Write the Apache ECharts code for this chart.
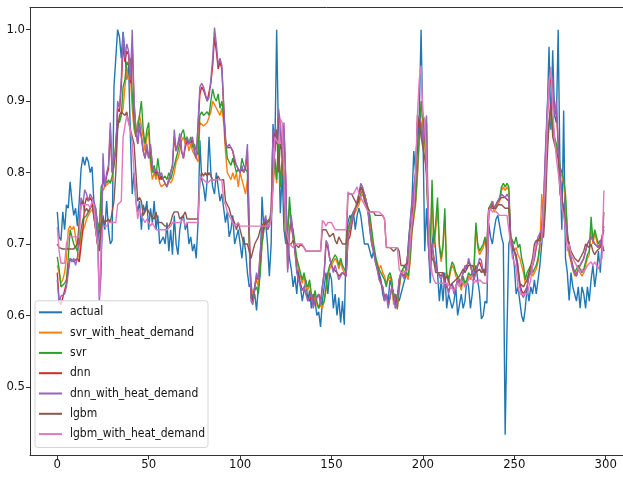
<!DOCTYPE html>
<html>
<head>
<meta charset="utf-8">
<script src="https://cdn.jsdelivr.net/npm/echarts@6/dist/echarts.min.js"></script>
<style>html,body{margin:0;padding:0;background:#fff}#c{width:623px;height:477px}</style>
</head>
<body>
<div id="c"></div>
<script>
const seriesNames = ['actual','svr_with_heat_demand','svr','dnn','dnn_with_heat_demand','lgbm','lgbm_with_heat_demand'];
const xTicks = [0,50,100,150,200,250,300];
const yTicks = [0.5,0.6,0.7,0.8,0.9,1.0];

const actual = [0.745,0.71,0.705,0.745,0.72,0.755,0.75,0.787,0.76,0.74,
 0.75,0.725,0.76,0.805,0.822,0.81,0.822,0.815,0.80,0.808,
 0.76,0.74,0.70,0.73,0.69,0.74,0.72,0.76,0.72,0.70,
 0.705,0.92,0.92,1.0,0.99,0.96,0.997,0.97,0.93,0.95,
 0.85,0.77,0.80,0.76,0.745,0.76,0.72,0.755,0.745,0.76,
 0.72,0.75,0.73,0.76,0.72,0.74,0.70,0.70,0.71,0.70,
 0.73,0.69,0.72,0.685,0.74,0.70,0.685,0.72,0.735,0.74,
 0.72,0.73,0.70,0.71,0.69,0.70,0.68,0.73,0.845,0.79,
 0.78,0.76,0.79,0.85,0.80,0.78,0.77,0.80,0.78,0.76,
 0.77,0.75,0.73,0.745,0.71,0.72,0.74,0.70,0.71,0.72,
 0.70,0.68,0.71,0.69,0.66,0.64,0.645,0.62,0.63,0.607,
 0.64,0.66,0.766,0.72,0.73,0.70,0.655,0.70,0.868,0.83,
 1.0,0.85,0.743,0.80,0.72,0.70,0.705,0.68,0.665,0.64,
 0.655,0.63,0.665,0.64,0.62,0.635,0.65,0.62,0.635,0.61,
 0.63,0.62,0.60,0.605,0.584,0.62,0.64,0.66,0.63,0.66,
 0.65,0.61,0.63,0.60,0.625,0.59,0.62,0.587,0.70,0.73,
 0.74,0.735,0.745,0.72,0.74,0.75,0.74,0.72,0.70,0.70,
 0.70,0.69,0.68,0.69,0.68,0.67,0.66,0.65,0.63,0.62,
 0.63,0.62,0.65,0.64,0.63,0.61,0.63,0.62,0.63,0.63,
 0.65,0.66,0.70,0.73,0.76,0.83,0.80,0.83,0.88,1.0,
 0.86,0.69,0.75,0.70,0.645,0.70,0.72,0.69,0.66,0.62,
 0.65,0.62,0.66,0.61,0.63,0.62,0.61,0.62,0.64,0.60,
 0.60,0.63,0.61,0.62,0.65,0.64,0.61,0.63,0.66,0.67,
 0.65,0.63,0.595,0.60,0.62,0.617,0.729,0.71,0.70,0.72,
 0.735,0.74,0.738,0.71,0.70,0.433,0.58,0.70,0.71,0.69,
 0.67,0.63,0.64,0.62,0.60,0.591,0.61,0.64,0.62,0.64,
 0.63,0.65,0.63,0.65,0.67,0.70,0.73,0.80,0.88,0.976,
 0.86,0.971,0.88,0.87,1.0,0.80,0.72,0.887,0.68,0.66,
 0.621,0.66,0.64,0.63,0.62,0.64,0.61,0.64,0.63,0.61,
 0.64,0.62,0.65,0.67,0.64,0.66,0.69,0.66,0.70,0.69];

const svrWithHeat = [0.67,0.66,0.645,0.65,0.66,0.68,0.72,0.725,0.72,0.725,
 0.71,0.69,0.68,0.715,0.72,0.725,0.735,0.74,0.745,0.745,
 0.75,0.745,0.73,0.72,0.772,0.775,0.78,0.78,0.785,0.785,
 0.79,0.81,0.84,0.865,0.875,0.88,0.89,0.92,0.945,0.93,
 0.935,0.89,0.86,0.85,0.87,0.88,0.88,0.85,0.83,0.85,
 0.86,0.81,0.79,0.80,0.79,0.80,0.785,0.78,0.78,0.785,
 0.78,0.79,0.785,0.79,0.80,0.815,0.82,0.83,0.845,0.85,
 0.84,0.845,0.83,0.84,0.83,0.83,0.82,0.815,0.87,0.87,
 0.865,0.865,0.87,0.87,0.885,0.90,0.895,0.89,0.89,0.88,
 0.89,0.87,0.83,0.80,0.80,0.79,0.80,0.79,0.80,0.78,
 0.80,0.79,0.79,0.77,0.79,0.70,0.64,0.63,0.64,0.65,
 0.64,0.67,0.70,0.72,0.725,0.73,0.73,0.735,0.78,0.81,
 0.785,0.84,0.78,0.81,0.79,0.70,0.70,0.75,0.72,0.71,
 0.69,0.675,0.665,0.655,0.645,0.655,0.64,0.635,0.645,0.625,
 0.615,0.63,0.615,0.61,0.615,0.61,0.62,0.635,0.655,0.665,
 0.67,0.675,0.68,0.675,0.665,0.675,0.665,0.66,0.655,0.715,
 0.725,0.735,0.74,0.745,0.75,0.755,0.765,0.77,0.765,0.755,
 0.745,0.735,0.715,0.695,0.68,0.675,0.665,0.67,0.66,0.655,
 0.645,0.65,0.655,0.645,0.615,0.625,0.608,0.635,0.655,0.665,
 0.665,0.655,0.65,0.675,0.715,0.735,0.755,0.795,0.845,0.89,
 0.87,0.84,0.79,0.735,0.685,0.77,0.695,0.72,0.75,0.695,
 0.675,0.695,0.74,0.655,0.645,0.66,0.67,0.665,0.655,0.65,
 0.645,0.635,0.65,0.64,0.645,0.655,0.65,0.655,0.665,0.725,
 0.695,0.685,0.69,0.695,0.705,0.685,0.745,0.75,0.755,0.745,
 0.75,0.755,0.76,0.775,0.78,0.775,0.78,0.775,0.705,0.70,
 0.69,0.695,0.685,0.68,0.67,0.66,0.645,0.65,0.66,0.665,
 0.655,0.66,0.665,0.675,0.695,0.77,0.74,0.785,0.84,0.865,
 0.885,0.865,0.845,0.835,0.82,0.80,0.795,0.785,0.76,0.715,
 0.685,0.675,0.665,0.655,0.66,0.665,0.66,0.655,0.66,0.67,
 0.68,0.685,0.725,0.70,0.715,0.705,0.695,0.70,0.695,0.69];

const svr = [0.682,0.665,0.64,0.64,0.645,0.65,0.68,0.72,0.719,0.70,
 0.70,0.69,0.70,0.72,0.735,0.735,0.74,0.745,0.75,0.755,
 0.755,0.75,0.73,0.72,0.78,0.785,0.79,0.785,0.79,0.785,
 0.795,0.81,0.84,0.873,0.87,0.88,0.92,0.93,0.955,0.95,
 0.96,0.91,0.87,0.85,0.86,0.88,0.90,0.86,0.84,0.86,
 0.87,0.82,0.80,0.81,0.795,0.82,0.80,0.79,0.79,0.795,
 0.79,0.80,0.79,0.80,0.81,0.82,0.83,0.84,0.855,0.86,
 0.845,0.85,0.84,0.85,0.835,0.84,0.83,0.825,0.88,0.885,
 0.88,0.88,0.885,0.88,0.90,0.917,0.905,0.90,0.91,0.89,
 0.90,0.88,0.85,0.82,0.82,0.81,0.82,0.81,0.80,0.805,
 0.80,0.82,0.81,0.805,0.80,0.70,0.63,0.62,0.635,0.64,
 0.63,0.66,0.70,0.72,0.73,0.73,0.735,0.74,0.79,0.82,
 0.79,0.85,0.78,0.82,0.80,0.70,0.71,0.766,0.73,0.72,
 0.70,0.68,0.67,0.66,0.65,0.66,0.645,0.64,0.65,0.63,
 0.62,0.635,0.62,0.61,0.62,0.615,0.62,0.64,0.66,0.67,
 0.675,0.68,0.685,0.68,0.67,0.68,0.67,0.665,0.66,0.72,
 0.73,0.74,0.745,0.745,0.755,0.76,0.77,0.775,0.77,0.76,
 0.75,0.74,0.72,0.70,0.685,0.67,0.665,0.66,0.655,0.65,
 0.64,0.655,0.66,0.65,0.62,0.63,0.61,0.64,0.66,0.665,
 0.67,0.66,0.655,0.68,0.72,0.74,0.76,0.80,0.85,0.90,
 0.88,0.85,0.80,0.74,0.69,0.79,0.70,0.73,0.765,0.70,
 0.68,0.70,0.75,0.66,0.65,0.665,0.675,0.67,0.66,0.655,
 0.65,0.64,0.655,0.645,0.65,0.66,0.655,0.66,0.67,0.73,
 0.70,0.69,0.695,0.70,0.71,0.69,0.75,0.755,0.76,0.75,
 0.755,0.76,0.765,0.78,0.785,0.78,0.785,0.78,0.71,0.71,
 0.70,0.71,0.695,0.70,0.68,0.67,0.65,0.66,0.665,0.67,
 0.66,0.665,0.67,0.68,0.70,0.72,0.74,0.79,0.85,0.87,
 0.89,0.87,0.85,0.84,0.83,0.808,0.80,0.79,0.77,0.72,
 0.69,0.68,0.67,0.66,0.665,0.67,0.665,0.66,0.665,0.675,
 0.685,0.69,0.738,0.705,0.72,0.71,0.70,0.705,0.70,0.69];

const dnn = [0.66,0.62,0.615,0.625,0.635,0.645,0.665,0.68,0.68,0.675,
 0.675,0.68,0.675,0.675,0.72,0.755,0.765,0.76,0.765,0.76,
 0.74,0.72,0.70,0.695,0.72,0.80,0.78,0.795,0.805,0.86,
 0.80,0.815,0.83,0.89,0.885,0.92,0.98,0.955,0.97,0.965,
 0.925,0.98,0.895,0.86,0.84,0.865,0.85,0.83,0.82,0.835,
 0.82,0.835,0.81,0.80,0.80,0.80,0.79,0.795,0.79,0.785,
 0.78,0.79,0.80,0.81,0.85,0.83,0.84,0.85,0.83,0.82,
 0.835,0.845,0.84,0.84,0.845,0.83,0.82,0.82,0.91,0.92,
 0.915,0.915,0.90,0.90,0.925,0.95,0.99,0.97,0.945,0.955,
 0.945,0.945,0.84,0.835,0.835,0.835,0.83,0.815,0.81,0.805,
 0.80,0.805,0.80,0.805,0.83,0.72,0.625,0.62,0.64,0.655,
 0.65,0.685,0.715,0.725,0.735,0.72,0.725,0.745,0.85,0.855,
 0.84,0.88,0.865,0.82,0.86,0.785,0.665,0.715,0.735,0.71,
 0.69,0.665,0.65,0.645,0.635,0.64,0.63,0.625,0.62,0.63,
 0.615,0.62,0.62,0.63,0.62,0.64,0.66,0.70,0.695,0.68,
 0.67,0.665,0.665,0.66,0.655,0.655,0.66,0.66,0.655,0.705,
 0.71,0.725,0.74,0.75,0.755,0.765,0.78,0.775,0.77,0.76,
 0.745,0.72,0.70,0.69,0.675,0.665,0.655,0.645,0.64,0.625,
 0.63,0.615,0.625,0.64,0.63,0.615,0.625,0.65,0.66,0.66,
 0.655,0.67,0.69,0.725,0.73,0.775,0.80,0.86,0.875,0.865,
 0.84,0.855,0.87,0.70,0.665,0.70,0.68,0.67,0.66,0.66,
 0.655,0.66,0.645,0.645,0.635,0.64,0.645,0.635,0.64,0.65,
 0.645,0.65,0.66,0.665,0.665,0.675,0.67,0.66,0.655,0.66,
 0.67,0.675,0.675,0.66,0.665,0.66,0.745,0.75,0.755,0.75,
 0.755,0.76,0.76,0.765,0.765,0.765,0.765,0.76,0.71,0.70,
 0.69,0.68,0.665,0.645,0.635,0.63,0.63,0.64,0.655,0.66,
 0.67,0.68,0.695,0.705,0.71,0.72,0.755,0.82,0.88,0.915,
 0.935,0.925,0.88,0.89,0.84,0.80,0.765,0.75,0.73,0.71,
 0.70,0.68,0.665,0.66,0.655,0.665,0.67,0.675,0.68,0.69,
 0.70,0.705,0.71,0.71,0.70,0.70,0.695,0.70,0.71,0.72];

const dnnWithHeat = [0.65,0.617,0.627,0.625,0.63,0.64,0.66,0.68,0.675,0.68,
 0.67,0.68,0.72,0.765,0.755,0.776,0.77,0.76,0.77,0.765,
 0.76,0.75,0.72,0.62,0.66,0.827,0.78,0.80,0.81,0.87,
 0.80,0.82,0.83,0.90,0.89,0.93,0.996,0.96,0.98,0.97,
 0.93,1.0,0.90,0.86,0.84,0.87,0.85,0.83,0.82,0.84,
 0.82,0.84,0.81,0.80,0.805,0.80,0.795,0.80,0.79,0.785,
 0.78,0.79,0.80,0.81,0.86,0.83,0.84,0.855,0.83,0.82,
 0.84,0.85,0.84,0.84,0.85,0.83,0.82,0.82,0.92,0.925,
 0.92,0.92,0.90,0.905,0.93,0.96,1.003,0.98,0.95,0.96,
 0.95,0.95,0.843,0.835,0.84,0.84,0.83,0.82,0.81,0.81,
 0.80,0.81,0.80,0.81,0.84,0.72,0.62,0.615,0.64,0.66,
 0.65,0.69,0.72,0.73,0.74,0.72,0.73,0.75,0.857,0.86,
 0.84,0.89,0.87,0.82,0.87,0.79,0.66,0.72,0.74,0.71,
 0.69,0.66,0.65,0.64,0.635,0.64,0.63,0.62,0.62,0.63,
 0.61,0.62,0.62,0.63,0.615,0.64,0.66,0.705,0.70,0.68,
 0.67,0.66,0.67,0.66,0.65,0.655,0.66,0.66,0.655,0.71,
 0.71,0.73,0.745,0.75,0.76,0.77,0.785,0.78,0.77,0.76,
 0.745,0.72,0.70,0.69,0.675,0.665,0.65,0.645,0.64,0.62,
 0.63,0.61,0.625,0.64,0.63,0.61,0.62,0.65,0.66,0.66,
 0.65,0.67,0.69,0.73,0.73,0.78,0.80,0.87,0.88,0.87,
 0.84,0.86,0.88,0.70,0.66,0.70,0.68,0.67,0.66,0.66,
 0.65,0.66,0.64,0.645,0.63,0.64,0.645,0.63,0.64,0.65,
 0.645,0.65,0.66,0.67,0.665,0.68,0.67,0.66,0.65,0.66,
 0.67,0.68,0.677,0.66,0.665,0.66,0.745,0.75,0.76,0.75,
 0.755,0.76,0.765,0.77,0.77,0.765,0.77,0.765,0.71,0.70,
 0.69,0.68,0.66,0.64,0.63,0.625,0.625,0.64,0.655,0.66,
 0.67,0.68,0.70,0.71,0.71,0.72,0.76,0.83,0.89,0.925,
 0.94,0.93,0.88,0.90,0.84,0.80,0.76,0.75,0.73,0.71,
 0.70,0.68,0.665,0.66,0.655,0.665,0.67,0.675,0.68,0.69,
 0.70,0.705,0.71,0.71,0.70,0.70,0.695,0.70,0.71,0.725];

const lgbm = [0.70,0.695,0.693,0.693,0.693,0.693,0.695,0.693,0.693,0.693,
 0.695,0.70,0.73,0.755,0.76,0.745,0.75,0.745,0.75,0.755,
 0.755,0.72,0.70,0.69,0.73,0.735,0.73,0.73,0.735,0.73,
 0.73,0.76,0.80,0.86,0.88,0.885,0.885,0.88,0.885,0.87,
 0.86,0.85,0.84,0.80,0.76,0.765,0.76,0.74,0.745,0.75,
 0.745,0.74,0.74,0.735,0.745,0.73,0.73,0.73,0.73,0.725,
 0.725,0.725,0.73,0.74,0.745,0.745,0.745,0.735,0.735,0.74,
 0.745,0.735,0.735,0.735,0.735,0.735,0.735,0.735,0.79,0.80,
 0.795,0.80,0.795,0.80,0.80,0.79,0.79,0.79,0.795,0.79,
 0.79,0.79,0.76,0.755,0.75,0.74,0.735,0.73,0.72,0.73,
 0.72,0.71,0.70,0.70,0.70,0.70,0.68,0.68,0.70,0.70,
 0.71,0.72,0.72,0.73,0.73,0.73,0.73,0.735,0.80,0.83,
 0.86,0.80,0.84,0.83,0.83,0.72,0.70,0.70,0.70,0.705,
 0.70,0.70,0.695,0.70,0.70,0.695,0.69,0.69,0.69,0.69,
 0.69,0.69,0.69,0.69,0.69,0.72,0.72,0.72,0.72,0.71,
 0.71,0.715,0.705,0.70,0.71,0.705,0.70,0.70,0.70,0.77,
 0.77,0.77,0.765,0.76,0.755,0.77,0.78,0.775,0.76,0.755,
 0.75,0.745,0.745,0.745,0.74,0.74,0.74,0.74,0.74,0.735,
 0.695,0.695,0.695,0.695,0.69,0.69,0.695,0.69,0.67,0.67,
 0.67,0.67,0.675,0.70,0.72,0.75,0.78,0.88,0.87,0.85,
 0.85,0.82,0.80,0.72,0.70,0.68,0.675,0.66,0.66,0.66,
 0.66,0.66,0.65,0.655,0.65,0.64,0.645,0.645,0.65,0.65,
 0.655,0.66,0.665,0.66,0.665,0.67,0.67,0.67,0.665,0.66,
 0.66,0.665,0.66,0.665,0.655,0.655,0.75,0.75,0.75,0.75,
 0.75,0.755,0.755,0.755,0.755,0.75,0.75,0.75,0.70,0.695,
 0.69,0.685,0.67,0.645,0.645,0.64,0.645,0.65,0.66,0.67,
 0.68,0.70,0.705,0.705,0.705,0.705,0.71,0.75,0.82,0.87,
 0.897,0.85,0.84,0.83,0.82,0.77,0.76,0.75,0.72,0.71,
 0.70,0.69,0.685,0.68,0.68,0.675,0.68,0.685,0.69,0.70,
 0.70,0.695,0.70,0.69,0.685,0.69,0.69,0.695,0.70,0.745];

const lgbmWithHeat = [0.724,0.69,0.673,0.673,0.673,0.70,0.71,0.71,0.71,0.71,
 0.71,0.71,0.71,0.755,0.755,0.755,0.755,0.755,0.75,0.76,
 0.755,0.72,0.70,0.626,0.70,0.725,0.725,0.725,0.73,0.73,
 0.73,0.73,0.73,0.755,0.755,0.76,0.85,0.85,0.88,0.87,
 0.86,0.84,0.80,0.76,0.735,0.75,0.74,0.735,0.73,0.735,
 0.735,0.725,0.73,0.725,0.72,0.72,0.72,0.72,0.72,0.72,
 0.72,0.72,0.725,0.73,0.73,0.73,0.73,0.73,0.73,0.735,
 0.725,0.73,0.73,0.73,0.73,0.73,0.73,0.73,0.795,0.795,
 0.79,0.79,0.785,0.785,0.79,0.79,0.79,0.79,0.79,0.79,
 0.79,0.76,0.755,0.745,0.74,0.735,0.73,0.725,0.725,0.73,
 0.725,0.725,0.725,0.725,0.725,0.725,0.725,0.725,0.725,0.725,
 0.725,0.725,0.725,0.725,0.725,0.725,0.725,0.735,0.78,0.85,
 0.85,0.84,0.875,0.87,0.87,0.72,0.71,0.70,0.70,0.695,
 0.70,0.70,0.70,0.70,0.70,0.70,0.69,0.69,0.69,0.69,
 0.69,0.69,0.69,0.69,0.69,0.733,0.73,0.725,0.73,0.73,
 0.73,0.73,0.72,0.72,0.72,0.72,0.72,0.72,0.72,0.773,
 0.77,0.77,0.77,0.775,0.78,0.77,0.765,0.76,0.76,0.75,
 0.745,0.745,0.745,0.745,0.745,0.745,0.745,0.745,0.74,0.735,
 0.696,0.695,0.695,0.695,0.695,0.695,0.695,0.665,0.66,0.658,
 0.66,0.66,0.665,0.70,0.73,0.75,0.80,0.88,0.93,0.95,
 0.88,0.875,0.875,0.74,0.68,0.66,0.65,0.645,0.645,0.645,
 0.645,0.645,0.645,0.645,0.645,0.64,0.64,0.635,0.64,0.645,
 0.64,0.65,0.645,0.64,0.645,0.65,0.655,0.65,0.645,0.65,
 0.645,0.65,0.65,0.645,0.645,0.645,0.747,0.75,0.745,0.745,
 0.745,0.745,0.74,0.74,0.74,0.74,0.74,0.74,0.70,0.68,
 0.675,0.665,0.64,0.63,0.63,0.63,0.63,0.63,0.64,0.65,
 0.67,0.69,0.70,0.70,0.70,0.705,0.75,0.79,0.86,0.925,
 0.948,0.89,0.85,0.82,0.80,0.78,0.75,0.74,0.72,0.69,
 0.70,0.685,0.68,0.675,0.67,0.67,0.66,0.665,0.66,0.665,
 0.67,0.67,0.675,0.67,0.675,0.67,0.665,0.675,0.68,0.775];

const seriesValues = [actual, svrWithHeat, svr, dnn, dnnWithHeat, lgbm, lgbmWithHeat];
const colors = ['#1f77b4','#ff7f0e','#2ca02c','#d62728','#9467bd','#8c564b','#e377c2'];
const FONT = "'DejaVu Sans Condensed', 'DejaVu Sans', sans-serif";
const AXIS_COLOR = '#333';

const chart = echarts.init(document.getElementById('c'), null, {renderer: 'canvas'});
chart.setOption({
  animation: false,
  color: colors,
  grid: {left: 30, top: 7.5, right: 0, bottom: 21.5, show: false},
  xAxis: [{
    type: 'value', min: -14.93, max: 309.46, position: 'bottom',
    axisLine: {show: true, onZero: false, lineStyle: {color: AXIS_COLOR, width: 1}},
    axisTick: {show: true, customValues: xTicks, length: 4, lineStyle: {color: AXIS_COLOR}},
    axisLabel: {customValues: xTicks, margin: 3, fontSize: 13, color: '#111', fontFamily: FONT},
    splitLine: {show: false}
  }, {
    type: 'value', min: -14.93, max: 309.46, position: 'top',
    axisLine: {show: true, onZero: false, lineStyle: {color: AXIS_COLOR, width: 1}},
    axisTick: {show: false}, axisLabel: {show: false}, splitLine: {show: false}
  }],
  yAxis: {
    type: 'value', min: 0.404, max: 1.031,
    axisLine: {show: true, onZero: false, lineStyle: {color: AXIS_COLOR, width: 1}},
    axisTick: {show: true, customValues: yTicks, length: 4, lineStyle: {color: AXIS_COLOR}},
    axisLabel: {customValues: yTicks, margin: 5, fontSize: 13, color: '#111', fontFamily: FONT, formatter: v => v.toFixed(1)},
    splitLine: {show: false}
  },
  legend: {
    orient: 'vertical', left: 35, top: 300.7,
    padding: [4.6, 3, 6.4, 4], itemGap: 6.3, itemWidth: 23, itemHeight: 2,
    icon: 'rect',
    backgroundColor: 'rgba(255,255,255,0.8)', borderColor: '#d5d5d5', borderWidth: 1, borderRadius: 3,
    textStyle: {fontSize: 12, lineHeight: 14, fontFamily: FONT, color: '#111', padding: [0, 0, 0, 3]},
    data: seriesNames
  },
  series: seriesNames.map((name, k) => ({
    name: name,
    type: 'line',
    xAxisIndex: 0,
    symbol: 'none',
    sampling: null,
    lineStyle: {width: 1.4, color: colors[k]},
    itemStyle: {color: colors[k]},
    data: seriesValues[k].map((v, i) => [i, v])
  }))
});
</script>
</body>
</html>
